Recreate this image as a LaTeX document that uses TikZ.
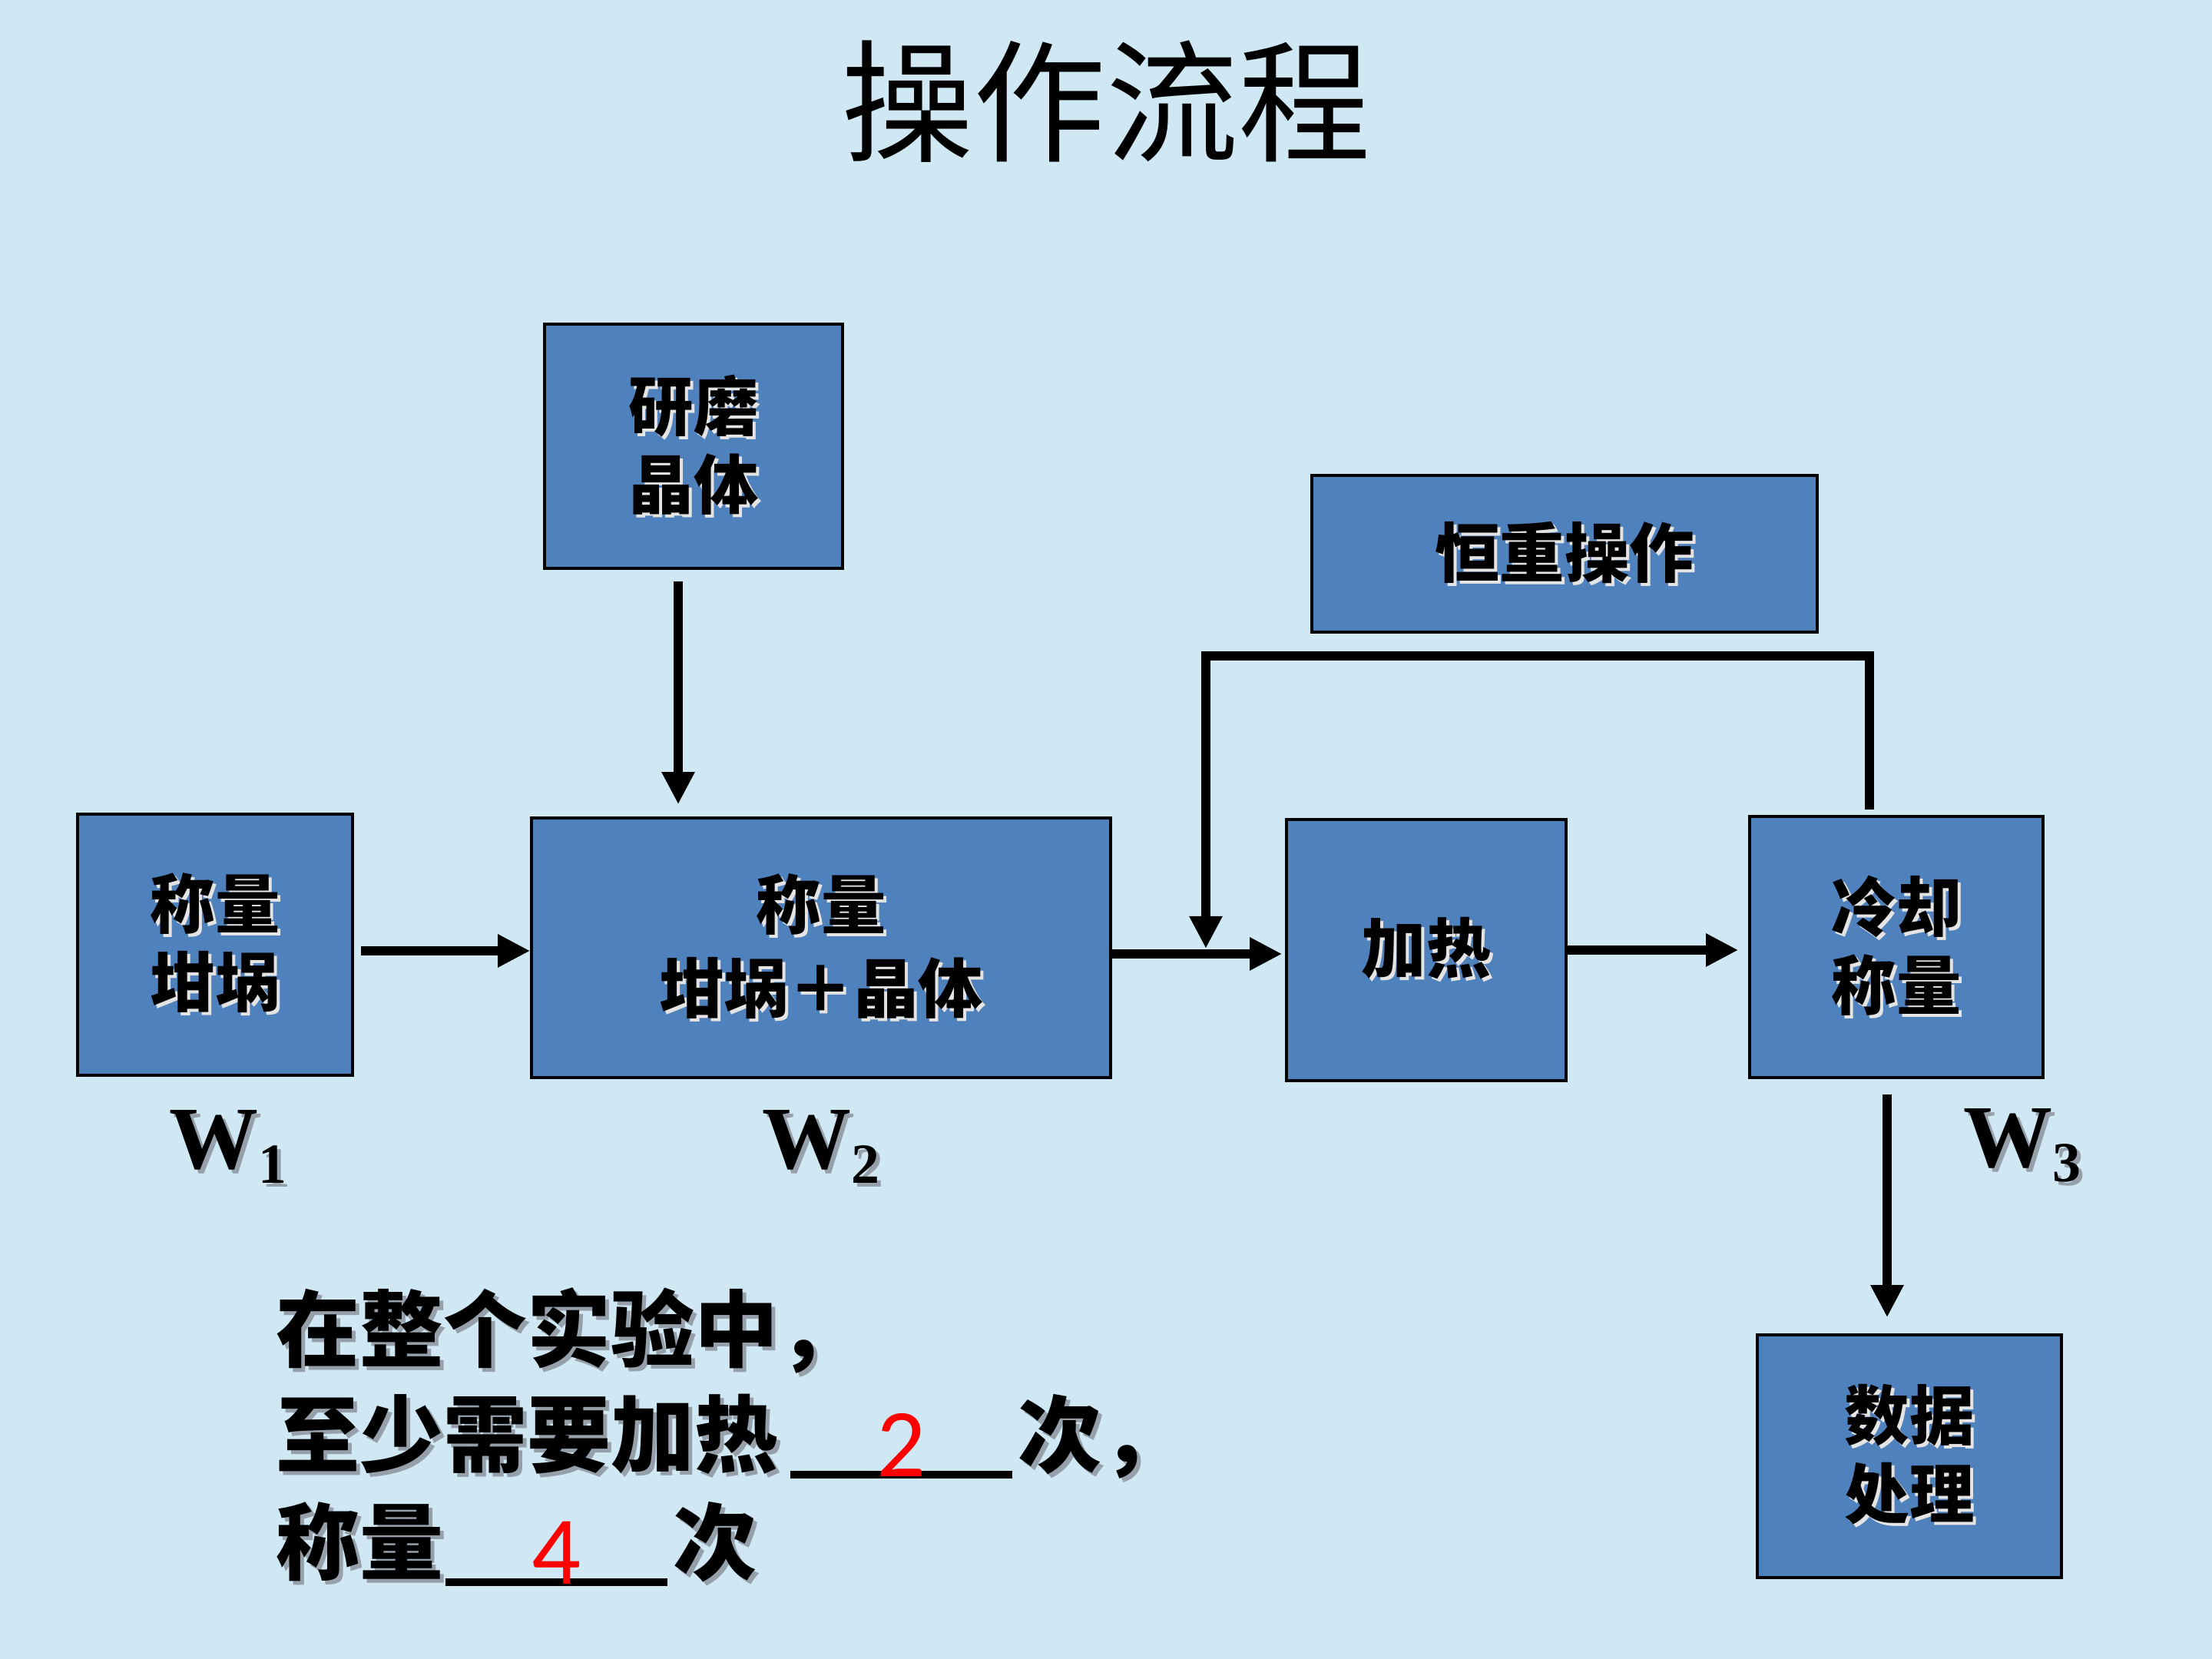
\documentclass[tikz,border=0pt]{standalone}
\usepackage{fontspec}
\setmainfont{Liberation Serif}
\newfontfamily\cjk{Noto Sans CJK SC}
\newfontfamily\digitfont{Carlito}
\usetikzlibrary{arrows.meta,calc}
\definecolor{bgc}{RGB}{207,232,243}
\definecolor{boxblue}{RGB}{79,129,189}
\definecolor{shw}{RGB}{228,228,228}
\definecolor{shgr}{RGB}{150,160,170}
\newcommand\shd[1]{\leavevmode\rlap{\kern0.04cm\raisebox{-0.04cm}{\color{shw}#1}}#1}
\newcommand\shg[1]{\leavevmode\rlap{\kern0.05cm\raisebox{-0.05cm}{\color{shgr}#1}}#1}
\newcommand\fillblank[1]{\rlap{\rule[-0.16cm]{2.89cm}{0.10cm}}\makebox[2.89cm]{\raisebox{-0.14cm}{\digitfont\mdseries\fontsize{36}{36}\selectfont\color{red}#1}}}
\tikzset{
  box/.style={draw=black, line width=1pt, fill=boxblue, inner sep=0pt, align=center,
    font=\cjk\bfseries\fontsize{24}{29}\selectfont},
  arr/.style={line width=3.4pt, -{Triangle[length=12pt,width=11.5pt]}},
  wlab/.style={inner sep=0pt, font=\bfseries\fontsize{33}{33}\selectfont},
  btxt/.style={inner sep=0pt, font=\cjk\bfseries\fontsize{31}{38}\selectfont},
}
\begin{document}
\begin{tikzpicture}
\useasboundingbox (0,0) rectangle (28.8,21.6);
\fill[bgc] (0,0) rectangle (28.8,21.6);

\node[inner sep=0pt, font=\cjk\fontsize{49}{49}\selectfont] (T) at (14.40,20.28) {操作流程};

\node[box, minimum width=3.58cm, minimum height=3.40cm] (A) at (2.80,9.30) {\shd{称量}\\\shd{坩埚}};
\node[box, minimum width=3.88cm, minimum height=3.18cm] (B) at (9.03,15.79) {\shd{研磨}\\\shd{晶体}};
\node[box, minimum width=7.54cm, minimum height=3.38cm, font=\cjk\bfseries\fontsize{24}{31}\selectfont] (C) at (10.69,9.26) {\shd{称量}\\\shd{坩埚＋晶体}};
\node[box, minimum width=6.58cm, minimum height=2.04cm] (D) at (20.37,14.39) {\shd{恒重操作}};
\node[box, minimum width=3.64cm, minimum height=3.40cm] (E) at (18.57,9.23) {\shd{加热}};
\node[box, minimum width=3.82cm, minimum height=3.40cm] (F) at (24.69,9.27) {\shd{冷却}\\\shd{称量}};
\node[box, minimum width=3.96cm, minimum height=3.16cm] (G) at (24.86,2.64) {\shd{数据}\\\shd{处理}};

\coordinate (J) at (15.70,9.25);

\draw[arr, shorten <=0.09cm] ([yshift=-0.08cm]A.east) -- ([yshift=-0.08cm]A.east -| C.west);
\draw[arr, shorten <=0.15cm, shorten >=0.16cm] ([xshift=-0.20cm]B.south) -- ([xshift=-0.20cm]B.south |- C.north);
\draw[arr, shorten >=0.04cm] ([yshift=-0.08cm]C.east) -- ([yshift=-0.08cm]C.east -| E.west);
\draw[arr] ([xshift=-0.35cm,yshift=0.07cm]F.north) -- ++(0,2.00) -| (J);
\draw[arr, shorten >=0.13cm] (E.east) -- (E.east -| F.west);
\draw[arr, shorten <=0.20cm, shorten >=0.21cm] ([xshift=-0.12cm]F.south) -- ([xshift=-0.12cm]F.south |- G.north);

\node[wlab, anchor=base west] (W1) at (2.20,6.38) {\shg{W\raisebox{-5.4pt}{\fontsize{21}{21}\selectfont 1}}};
\node[wlab, anchor=base west] (W2) at (9.92,6.38) {\shg{W\raisebox{-5.4pt}{\fontsize{21}{21}\selectfont 2}}};
\node[wlab, anchor=base west] (W3) at (25.56,6.40) {\shg{W\raisebox{-5.4pt}{\fontsize{21}{21}\selectfont 3}}};

\node[btxt, anchor=base west] (L1) at (3.59,3.88) {\shg{在整个实验中，}};
\node[btxt, anchor=base west] (L2) at (3.59,2.51) {\shg{至少需要加热}\hspace{0.16cm}\fillblank{2}\hspace{0.07cm}\shg{次，}};
\node[btxt, anchor=base west] (L3) at (3.59,1.11) {\shg{称量}\hspace{0.02cm}\fillblank{4}\hspace{0.08cm}\shg{次}};
\end{tikzpicture}
\end{document}
